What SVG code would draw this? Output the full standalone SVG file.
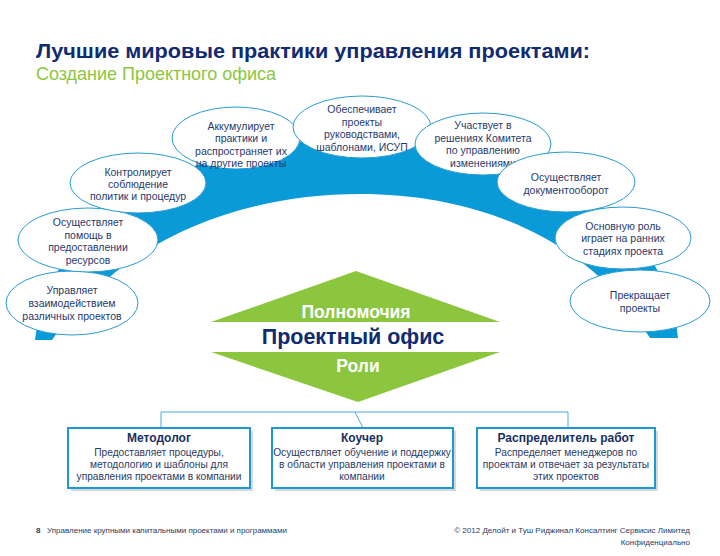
<svg xmlns="http://www.w3.org/2000/svg" width="720" height="556" viewBox="0 0 720 556">
<style>
  .ell { fill: #ffffff; stroke: #2a9bd3; stroke-width: 1; }
  .et { font-family: "Liberation Sans", Arial, sans-serif; font-size: 10.5px; fill: #1f3a6e; text-anchor: middle; }
  .box { fill: #ffffff; stroke: #1d98d3; stroke-width: 2; }
  .shadow { fill: #d9d9d9; }
  .bt { font-family: "Liberation Sans", Arial, sans-serif; font-size: 12px; font-weight: bold; fill: #17305f; text-anchor: middle; }
  .bd { font-family: "Liberation Sans", Arial, sans-serif; font-size: 10.2px; fill: #2a3b64; text-anchor: middle; }
  .conn { stroke: #4aa8d8; stroke-width: 1; fill: none; }
  .ft { font-family: "Liberation Sans", Arial, sans-serif; font-size: 8px; fill: #2a3b64; }
</style>

<g id="title">
  <text x="36" y="58" font-family="Liberation Sans, Arial, sans-serif" font-size="21" font-weight="bold" fill="#0f2b72" textLength="554" lengthAdjust="spacingAndGlyphs">Лучшие мировые практики управления проектами:</text>
  <text x="36" y="80" font-family="Liberation Sans, Arial, sans-serif" font-size="17.5" fill="#8cc63f" textLength="240" lengthAdjust="spacingAndGlyphs">Создание Проектного офиса</text>
</g>

<g id="arc">
  <path d="M 35,340 C 66,71 654,71 678,338 L 650,338 C 590,240 480,194 360,194 C 240,194 120,240 52,340 Z" fill="#0a9ad7"/>
</g>

<g id="e-upravlyaet">
  <ellipse class="ell" cx="72" cy="303" rx="66" ry="32"/>
  <text class="et" x="72" y="294">Управляет</text>
  <text class="et" x="72" y="307">взаимодействием</text>
  <text class="et" x="72" y="320">различных проектов</text>
</g>
<g id="e-pomosch">
  <ellipse class="ell" cx="88" cy="240" rx="70" ry="32"/>
  <text class="et" x="88" y="226">Осуществляет</text>
  <text class="et" x="88" y="238.5">помощь в</text>
  <text class="et" x="88" y="251">предоставлении</text>
  <text class="et" x="88" y="263.5">ресурсов</text>
</g>
<g id="e-kontrol">
  <ellipse class="ell" cx="138" cy="183" rx="68" ry="30"/>
  <text class="et" x="138" y="176">Контролирует</text>
  <text class="et" x="138" y="188">соблюдение</text>
  <text class="et" x="138" y="200">политик и процедур</text>
</g>
<g id="e-akkum">
  <ellipse class="ell" cx="236" cy="138" rx="64" ry="31"/>
  <text class="et" x="241" y="130">Аккумулирует</text>
  <text class="et" x="241" y="142">практики и</text>
  <text class="et" x="241" y="154.5">распространяет их</text>
  <text class="et" x="241" y="166.5">на другие проекты</text>
</g>
<g id="e-obespech">
  <ellipse class="ell" cx="362" cy="127" rx="69" ry="31"/>
  <text class="et" x="362" y="113">Обеспечивает</text>
  <text class="et" x="362" y="125.5">проекты</text>
  <text class="et" x="362" y="138">руководствами,</text>
  <text class="et" x="362" y="150.5">шаблонами, ИСУП</text>
</g>
<g id="e-uchastvuet">
  <ellipse class="ell" cx="483" cy="144" rx="68" ry="31"/>
  <text class="et" x="483" y="129">Участвует в</text>
  <text class="et" x="483" y="141.5">решениях Комитета</text>
  <text class="et" x="483" y="154">по управлению</text>
  <text class="et" x="483" y="166.5">изменениями</text>
</g>
<g id="e-dokument">
  <ellipse class="ell" cx="566" cy="182" rx="69" ry="30"/>
  <text class="et" x="566" y="181">Осуществляет</text>
  <text class="et" x="566" y="193.5">документооборот</text>
</g>
<g id="e-osnovnuyu">
  <ellipse class="ell" cx="623" cy="238" rx="68" ry="31"/>
  <text class="et" x="623" y="229.5">Основную роль</text>
  <text class="et" x="623" y="242">играет на ранних</text>
  <text class="et" x="623" y="254.5">стадиях проекта</text>
</g>
<g id="e-prekraschaet">
  <ellipse class="ell" cx="640" cy="301" rx="70" ry="31"/>
  <text class="et" x="640" y="299">Прекращает</text>
  <text class="et" x="640" y="311.5">проекты</text>
</g>

<g id="office">
  <polygon points="356,271 500,322 211,322" fill="#8cc63f"/>
  <polygon points="211,352 500,352 358,402" fill="#8cc63f"/>
  <text x="356" y="318" font-family="Liberation Sans, Arial, sans-serif" font-size="17.5" font-weight="bold" fill="#ffffff" text-anchor="middle">Полномочия</text>
  <text x="353" y="344" font-family="Liberation Sans, Arial, sans-serif" font-size="21.5" font-weight="bold" fill="#0f2b72" text-anchor="middle">Проектный офис</text>
  <text x="358" y="372" font-family="Liberation Sans, Arial, sans-serif" font-size="17.5" font-weight="bold" fill="#ffffff" text-anchor="middle">Роли</text>
</g>

<g id="connectors">
  <path class="conn" d="M 161,428 V 412 H 568 V 428"/>
  <path class="conn" d="M 355,412 L 363,428"/>
</g>

<g id="b-metodolog">
  <rect class="shadow" x="71" y="431" width="182" height="60"/>
  <rect class="box" x="68" y="428" width="182" height="60"/>
  <text class="bt" x="159" y="442">Методолог</text>
  <text class="bd" x="159" y="456">Предоставляет процедуры,</text>
  <text class="bd" x="159" y="468">методологию и шаблоны для</text>
  <text class="bd" x="159" y="480">управления проектами в компании</text>
</g>
<g id="b-kouchr">
  <rect class="shadow" x="275" y="431" width="181" height="60"/>
  <rect class="box" x="272" y="428" width="181" height="60"/>
  <text class="bt" x="362" y="442">Коучер</text>
  <text class="bd" x="362" y="456">Осуществляет обучение и поддержку</text>
  <text class="bd" x="362" y="468">в области управления проектами в</text>
  <text class="bd" x="362" y="480">компании</text>
</g>
<g id="b-raspred">
  <rect class="shadow" x="480" y="431" width="178" height="60"/>
  <rect class="box" x="477" y="428" width="178" height="60"/>
  <text class="bt" x="566" y="442">Распределитель работ</text>
  <text class="bd" x="566" y="456">Распределяет менеджеров по</text>
  <text class="bd" x="566" y="468">проектам и отвечает за результаты</text>
  <text class="bd" x="566" y="480">этих проектов</text>
</g>

<g id="footer">
  <text class="ft" x="36" y="533" font-weight="bold" fill="#0f2b72">8</text>
  <text class="ft" x="47" y="533">Управление крупными капитальными проектами и программами</text>
  <text class="ft" x="690" y="533" text-anchor="end">© 2012 Делойт и Туш Риджинал Консалтинг Сервисис Лимитед</text>
  <text class="ft" x="690" y="545" text-anchor="end">Конфиденциально</text>
</g>
</svg>
